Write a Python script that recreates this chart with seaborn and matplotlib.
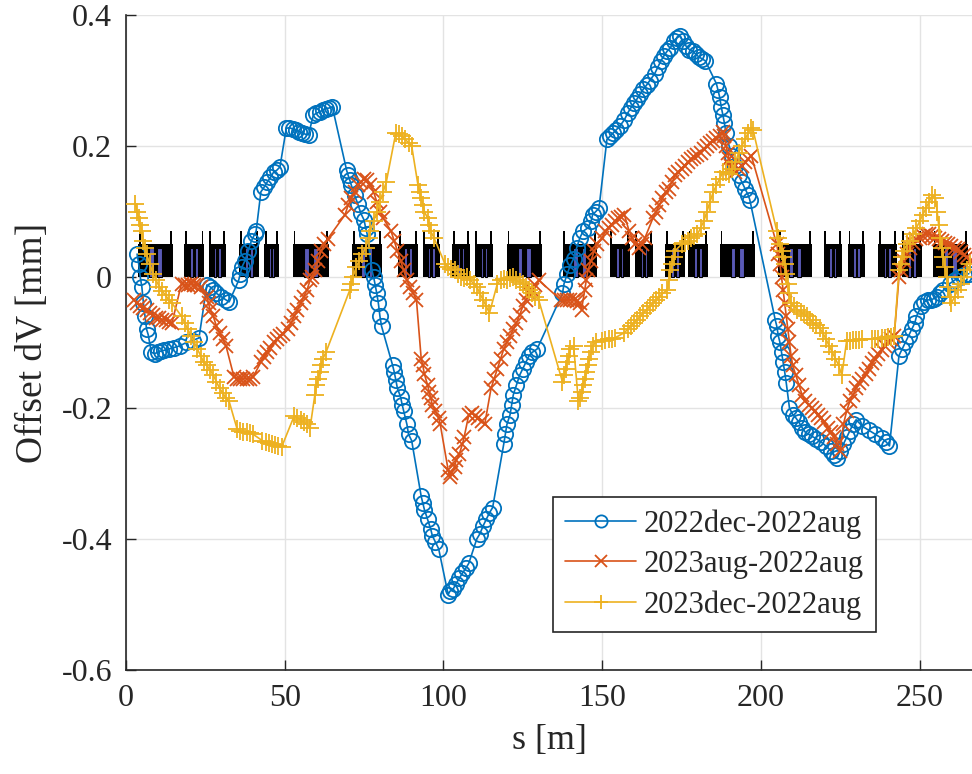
import numpy as np
import pandas as pd
import matplotlib
matplotlib.use("Agg")
import matplotlib.pyplot as plt
import seaborn as sns

# ---- data ----
s_dec22 = [3.5, 4.0, 4.5, 5.0, 5.5, 6.0, 6.5, 7.0, 8.0, 9.0, 10.0, 11.0, 12.0, 13.5, 15.0, 17.0, 19.0, 21.0, 23.0,
           25.5, 26.5, 27.5, 28.5, 30.0, 31.5, 32.5, 35.5, 36.0, 36.5, 37.5, 38.5, 39.5, 40.5, 41.0,
           42.5, 43.5, 44.5, 45.5, 46.5, 47.5, 48.5, 50.5, 51.5, 52.5, 53.5, 54.5, 55.5, 56.5, 57.5,
           59.0, 60.0, 61.0, 62.0, 63.0, 64.0, 65.0, 69.5, 70.0, 70.5, 71.0, 72.0, 73.0, 74.0, 75.0, 75.5, 76.0,
           77.5, 78.0, 78.5, 79.0, 79.5, 80.0, 80.5, 84.0, 84.5, 85.0, 85.5, 86.5, 87.0, 87.5, 88.5, 89.0, 90.0,
           93.0, 93.5, 94.0, 95.0, 96.0, 96.5, 97.5, 98.5, 101.5, 102.0, 103.0, 104.0, 105.0, 106.0, 107.0, 108.0,
           110.5, 111.5, 112.5, 113.5, 114.5, 115.5, 119.0, 119.5, 120.0, 121.0, 121.5, 122.0, 123.0, 124.0,
           125.0, 126.0, 127.0, 128.0, 129.5, 137.5, 138.0, 139.0, 140.0, 141.0, 142.0, 143.0, 144.0, 145.5,
           146.5, 147.0, 148.0, 149.0, 151.5, 152.5, 153.5, 154.5, 155.5, 157.0, 158.0, 159.0, 160.0, 161.0,
           162.0, 163.0, 164.0, 165.0, 166.5, 167.5, 168.5, 169.5, 170.5, 171.5, 172.5, 173.5, 174.5, 175.5,
           176.5, 177.5, 178.5, 179.5, 180.5, 181.5, 182.5, 186.0, 186.5, 187.0, 187.5, 188.0, 188.5, 189.0,
           190.0, 191.0, 192.0, 193.0, 194.0, 195.0, 196.0, 196.5, 204.5, 205.0, 205.5, 206.0, 206.5, 207.0,
           207.5, 208.0, 209.0, 210.0, 211.0, 212.0, 213.0, 214.0, 215.0, 216.0, 217.5, 219.0, 220.5, 222.0,
           223.0, 224.0, 225.0, 226.0, 227.0, 228.0, 229.0, 230.0, 232.0, 234.0, 236.0, 238.0, 239.5, 240.5,
           243.5, 244.5, 245.5, 246.5, 247.5, 248.5, 249.0, 250.5, 251.5, 252.5, 253.5, 254.5, 255.5, 256.5,
           257.5, 259.5, 261.0, 262.5, 264.0, 265.5]
dv_dec22 = [0.035, 0.02, 0.0, -0.015, -0.04, -0.06, -0.08, -0.088, -0.115, -0.117, -0.115, -0.113, -0.112, -0.11,
            -0.108, -0.105, -0.1, -0.097, -0.093,
            -0.012, -0.015, -0.02, -0.025, -0.03, -0.035, -0.038, -0.005, 0.005, 0.015, 0.025, 0.04, 0.055, 0.065, 0.07,
            0.13, 0.137, 0.145, 0.152, 0.16, 0.163, 0.168, 0.227, 0.228, 0.226, 0.224, 0.222, 0.22, 0.218, 0.217,
            0.247, 0.25, 0.252, 0.255, 0.257, 0.258, 0.26, 0.163, 0.155, 0.148, 0.14, 0.125, 0.112, 0.097, 0.087,
            0.075, 0.065,
            0.01, 0.0, -0.012, -0.025, -0.04, -0.06, -0.075, -0.135, -0.145, -0.157, -0.17, -0.183, -0.195, -0.205,
            -0.225, -0.24, -0.25,
            -0.335, -0.345, -0.355, -0.37, -0.385, -0.395, -0.405, -0.415, -0.485, -0.48, -0.477, -0.468, -0.46,
            -0.452, -0.445, -0.437,
            -0.4, -0.392, -0.38, -0.37, -0.36, -0.352, -0.255, -0.24, -0.225, -0.21, -0.195, -0.18, -0.165, -0.15,
            -0.14, -0.13, -0.12, -0.115, -0.11, -0.025, -0.01, 0.005, 0.018, 0.028, 0.045, 0.06, 0.07, 0.075,
            0.085, 0.095, 0.1, 0.105, 0.21, 0.215, 0.22, 0.225, 0.23, 0.24, 0.25, 0.258, 0.265, 0.272,
            0.28, 0.287, 0.293, 0.3, 0.31, 0.32, 0.33, 0.338, 0.345, 0.35, 0.36, 0.365, 0.368, 0.36,
            0.352, 0.347, 0.345, 0.34, 0.336, 0.333, 0.33, 0.295, 0.285, 0.275, 0.26, 0.248, 0.235, 0.22,
            0.2, 0.185, 0.17, 0.155, 0.145, 0.135, 0.125, 0.118, -0.065, -0.075, -0.09, -0.1, -0.115, -0.13,
            -0.145, -0.162, -0.2, -0.21, -0.215, -0.222, -0.23, -0.237, -0.24, -0.243, -0.247, -0.252, -0.258, -0.265,
            -0.272, -0.276, -0.265, -0.255, -0.245, -0.235, -0.225, -0.218, -0.228, -0.234, -0.24, -0.246, -0.252,
            -0.258,
            -0.12, -0.11, -0.1, -0.09, -0.08, -0.07, -0.06, -0.045, -0.038, -0.035, -0.035, -0.033, -0.03, -0.025,
            -0.02, -0.01, -0.005, 0.0, 0.003, 0.005]

s_aug23 = [2.5, 3.5, 4.5, 5.5, 6.5, 7.5, 8.5, 9.5, 10.5, 11.5, 12.5, 13.5, 14.5,
           17.5, 18.5, 19.5, 20.5, 21.5, 22.5, 23.5, 25.5, 26.0, 26.5, 27.5, 28.5, 29.5, 30.5, 31.5,
           34.0, 35.0, 36.0, 37.0, 38.0, 39.0, 40.0, 42.5, 43.5, 44.5, 45.5, 46.5, 47.5, 48.5, 49.5,
           51.0, 52.0, 53.0, 54.0, 55.0, 56.0, 57.0, 58.0, 58.5, 59.5, 60.5, 61.5, 62.5, 63.5,
           69.0, 70.0, 71.0, 72.0, 73.0, 74.0, 75.0, 76.0, 77.0, 78.0, 79.0, 80.0, 81.0,
           83.5, 84.5, 85.5, 86.5, 87.5, 88.5, 89.5, 90.5, 91.5, 93.0, 93.5, 94.0, 95.0, 95.5, 96.0, 96.5,
           97.5, 98.5, 99.0, 101.5, 102.0, 102.5, 103.5, 104.0, 105.0, 106.0, 106.5, 108.0, 109.0, 110.0,
           111.0, 112.0, 113.0, 115.0, 116.0, 117.0, 118.0, 119.0, 120.0, 121.0, 122.0, 123.0, 124.0, 125.0,
           126.0, 127.0, 128.0, 129.0, 130.0, 137.0, 138.0, 139.0, 140.0, 141.0, 142.0, 143.0, 143.5,
           144.5, 145.0, 145.5, 146.5, 147.5, 148.5, 150.0, 151.0, 152.0, 153.0, 154.0, 155.0, 156.0, 157.0,
           158.5, 159.5, 160.5, 161.5, 162.5, 163.5, 166.0, 167.0, 168.0, 169.0, 170.0, 171.0, 172.0, 173.0,
           174.0, 175.0, 176.0, 177.0, 178.0, 179.0, 180.0, 181.0, 182.0, 183.0, 184.0, 185.0, 186.0, 187.0,
           188.0, 188.5, 189.0, 189.5, 190.0, 190.5, 191.0, 192.0, 193.0, 194.0, 195.0, 196.0, 197.0,
           205.0, 205.5, 206.0, 206.5, 207.0, 207.5, 208.0, 208.5, 209.0, 209.5, 210.0, 211.0, 212.0, 213.0,
           214.0, 215.0, 216.0, 217.0, 218.0, 219.0, 220.0, 221.0, 222.0, 223.0, 224.0, 225.0,
           226.0, 227.0, 228.0, 229.0, 230.0, 231.0, 232.0, 233.0, 234.0, 235.0, 236.0, 237.0, 238.0, 239.0,
           240.0, 241.0, 242.0, 243.5, 244.0, 245.0, 246.0, 247.0, 248.0, 249.0, 250.0, 251.0, 252.0, 253.0,
           254.0, 255.0, 256.0, 257.0, 258.0, 259.0, 260.0, 261.0, 262.0, 263.0, 264.0, 265.0, 266.0]
dv_aug23 = [-0.035, -0.04, -0.045, -0.048, -0.05, -0.055, -0.058, -0.062, -0.063, -0.065, -0.066, -0.068, -0.07,
            -0.01, -0.012, -0.012, -0.01, -0.012, -0.012, -0.015, -0.03, -0.04, -0.05, -0.06, -0.075, -0.085, -0.095,
            -0.105,
            -0.152, -0.155, -0.155, -0.155, -0.155, -0.155, -0.153, -0.13, -0.122, -0.115, -0.108, -0.1, -0.095,
            -0.09, -0.087,
            -0.08, -0.07, -0.06, -0.05, -0.04, -0.03, -0.02, -0.005, 0.0, 0.01, 0.025, 0.04, 0.05, 0.058,
            0.095, 0.11, 0.12, 0.13, 0.14, 0.145, 0.15, 0.148, 0.14, 0.13, 0.115, 0.1, 0.09,
            0.07, 0.055, 0.04, 0.025, 0.01, -0.005, -0.015, -0.025, -0.035, -0.125, -0.135, -0.148, -0.165, -0.175,
            -0.185, -0.195,
            -0.205, -0.215, -0.225, -0.295, -0.305, -0.3, -0.29, -0.28, -0.27, -0.255, -0.245, -0.21, -0.208, -0.212,
            -0.215, -0.22, -0.225, -0.17, -0.155, -0.14, -0.125, -0.11, -0.1, -0.09, -0.08, -0.07, -0.058, -0.045,
            -0.035, -0.025, -0.02, -0.012, -0.005, -0.035, -0.035, -0.035, -0.035, -0.035, -0.037, -0.04, -0.05,
            -0.02, -0.005, 0.01, 0.025, 0.04, 0.05, 0.06, 0.07, 0.075, 0.08, 0.085, 0.09, 0.092, 0.095,
            0.07, 0.06, 0.05, 0.045, 0.05, 0.06, 0.09, 0.1, 0.11, 0.12, 0.13, 0.135, 0.145, 0.155,
            0.16, 0.165, 0.17, 0.175, 0.18, 0.183, 0.187, 0.19, 0.195, 0.2, 0.205, 0.208, 0.212, 0.215,
            0.222, 0.215, 0.2, 0.19, 0.18, 0.17, 0.165, 0.16, 0.165, 0.17, 0.175, 0.18, 0.185,
            0.05, 0.035, 0.02, 0.0, -0.02, -0.04, -0.06, -0.08, -0.1, -0.12, -0.135, -0.15, -0.165, -0.18,
            -0.19, -0.195, -0.2, -0.205, -0.21, -0.215, -0.222, -0.23, -0.237, -0.245, -0.255, -0.265,
            -0.225, -0.205, -0.19, -0.18, -0.17, -0.162, -0.155, -0.148, -0.14, -0.132, -0.125, -0.118, -0.112,
            -0.106,
            -0.1, -0.095, -0.09, 0.0, 0.01, 0.025, 0.035, 0.045, 0.052, 0.058, 0.06, 0.063, 0.065, 0.065,
            0.063, 0.06, 0.058, 0.055, 0.052, 0.05, 0.048, 0.045, 0.042, 0.038, 0.033, 0.03, 0.025]

s_dec23 = [3.0, 3.5, 4.0, 4.5, 5.0, 5.5, 6.0, 6.5, 7.5, 8.5, 9.5, 10.5, 11.5, 12.5, 13.5, 14.5,
           17.5, 18.5, 19.5, 20.5, 21.5, 22.5, 23.5, 24.5, 25.5, 26.5, 27.5, 28.5, 29.5, 30.5, 31.5, 32.5,
           35.0, 36.0, 37.0, 38.0, 39.0, 40.0, 43.0, 44.0, 45.0, 46.0, 47.0, 48.0, 49.0,
           53.0, 54.0, 55.0, 56.0, 57.0, 58.0, 59.5, 60.0, 60.5, 61.0, 61.5, 62.0, 63.0,
           70.5, 71.0, 71.5, 72.5, 73.5, 74.5, 75.5, 76.5, 77.0, 78.0, 79.0, 80.0, 81.0, 82.0,
           85.0, 86.0, 87.0, 88.0, 89.0, 90.0, 92.0, 92.5, 93.0, 93.5, 94.0, 95.0, 95.5, 96.0, 97.0,
           100.5, 101.5, 102.5, 103.5, 104.5, 105.5, 106.5, 107.5, 108.5, 109.5, 110.5, 111.5, 112.5, 113.5, 114.5,
           117.0, 118.0, 119.0, 120.0, 121.0, 122.0, 123.0, 124.0, 125.0, 126.0, 127.0, 128.0, 129.0, 130.0,
           137.5, 138.0, 138.5, 139.0, 139.5, 140.0, 141.0, 142.5, 143.0, 143.5, 144.0, 144.5, 145.0, 145.5,
           146.0, 146.5, 147.0, 148.0, 150.0, 151.0, 152.0, 153.0, 154.0,
           157.0, 158.0, 159.0, 160.0, 161.0, 162.0, 163.0, 164.0, 165.0, 166.0, 167.0, 168.0, 169.0,
           170.5, 171.0, 171.5, 172.0, 172.5, 173.0, 175.0, 176.0, 177.0, 178.0, 179.0, 180.0,
           181.0, 182.0, 183.0, 184.0, 185.0, 186.0, 187.0, 188.0, 189.0, 190.0, 191.0, 192.0, 193.0, 194.0,
           195.0, 196.0, 197.0, 197.5,
           205.0, 205.5, 206.0, 206.5, 207.0, 207.5, 208.0, 208.5, 209.0, 209.5,
           210.5, 211.5, 212.5, 213.5, 214.5, 215.5, 216.5, 217.5, 218.5,
           219.5, 220.5, 221.5, 222.5, 223.5, 224.5, 225.5,
           227.0, 228.0, 229.0, 230.0, 231.0, 232.0, 235.0, 236.0, 237.0, 238.0, 239.0, 240.0, 241.0, 242.0,
           243.5, 244.0, 244.5, 245.0, 246.0, 247.0, 248.0, 249.0, 250.0, 251.0, 252.0, 253.0, 254.0,
           255.0, 255.5, 256.0, 256.5, 257.0, 257.5, 258.0, 258.5, 259.0, 259.5, 260.0,
           261.0, 262.0, 263.0, 264.0, 265.0, 266.0]
dv_dec23 = [0.112, 0.1, 0.09, 0.08, 0.07, 0.055, 0.045, 0.035, 0.02, 0.005, -0.005, -0.015, -0.022, -0.028, -0.035,
            -0.04,
            -0.06, -0.07, -0.08, -0.09, -0.1, -0.11, -0.12, -0.13, -0.135, -0.142, -0.15, -0.16, -0.17, -0.177,
            -0.185, -0.19,
            -0.232, -0.235, -0.236, -0.237, -0.238, -0.24, -0.25, -0.252, -0.254, -0.255, -0.257, -0.258, -0.26,
            -0.212, -0.215, -0.218, -0.222, -0.225, -0.23, -0.18, -0.165, -0.155, -0.145, -0.135, -0.125, -0.115,
            -0.02, -0.01, 0.0, 0.015, 0.025, 0.035, 0.045, 0.06, 0.07, 0.085, 0.1, 0.115, 0.13, 0.145,
            0.22, 0.218, 0.215, 0.21, 0.205, 0.2, 0.14, 0.13, 0.12, 0.11, 0.1, 0.09, 0.08, 0.07, 0.06,
            0.02, 0.015, 0.012, 0.01, 0.005, 0.0, -0.002, 0.0, -0.005, -0.01, -0.015, -0.025, -0.035, -0.045, -0.055,
            -0.01, -0.005, -0.003, -0.005, -0.002, 0.0, -0.005, -0.008, -0.01, -0.015, -0.02, -0.025, -0.03, -0.035,
            -0.16, -0.15, -0.14, -0.13, -0.12, -0.11, -0.105, -0.19, -0.185, -0.175, -0.165, -0.155, -0.145, -0.135,
            -0.125, -0.115, -0.105, -0.1, -0.097, -0.096, -0.095, -0.094, -0.093,
            -0.085, -0.08, -0.075, -0.07, -0.065, -0.06, -0.055, -0.05, -0.045, -0.04, -0.035, -0.03, -0.025,
            -0.02, -0.005, 0.01, 0.02, 0.03, 0.04, 0.05, 0.052, 0.055, 0.06, 0.062, 0.065,
            0.075, 0.085, 0.1, 0.115, 0.13, 0.14, 0.15, 0.16, 0.16, 0.158, 0.165, 0.175, 0.19, 0.2,
            0.21, 0.22, 0.228, 0.225,
            0.07, 0.06, 0.05, 0.04, 0.03, 0.02, 0.005, -0.01, -0.025, -0.04,
            -0.045, -0.05, -0.053, -0.057, -0.06, -0.065, -0.07, -0.073, -0.078,
            -0.085, -0.095, -0.105, -0.115, -0.125, -0.135, -0.15,
            -0.098, -0.097, -0.096, -0.096, -0.096, -0.095, -0.095, -0.094, -0.094, -0.093, -0.093, -0.092, -0.092,
            -0.09,
            0.01, 0.02, 0.03, 0.04, 0.05, 0.055, 0.065, 0.075, 0.085, 0.095, 0.105, 0.115, 0.125,
            0.12, 0.1, 0.08, 0.06, 0.045, 0.03, 0.015, 0.0, -0.015, -0.03, -0.04,
            -0.03, -0.02, -0.01, 0.0, 0.01, 0.02]

# lattice magnet blocks (start, end in m)
mag_start = [3.8, 18.3, 26.1, 35.6, 43.5, 52.6, 71.2, 85.7, 93.5, 102.7, 109.9, 120.0,
             137.6, 152.4, 160.3, 169.8, 177.0, 187.1, 205.4, 219.8, 227.4, 236.9, 244.4, 254.2]
mag_end = [14.8, 24.6, 31.5, 41.9, 48.2, 63.9, 80.6, 92.0, 98.9, 108.3, 115.6, 131.0,
           148.3, 158.7, 166.0, 176.1, 183.3, 198.1, 216.1, 225.5, 232.8, 242.8, 250.7, 265.2]

labels = ["2022dec-2022aug", "2023aug-2022aug", "2023dec-2022aug"]
colors = ["#0072BD", "#D95319", "#EDB120"]

sns.set_theme(style="whitegrid")
plt.rcParams["font.family"] = ["Liberation Serif", "DejaVu Serif"]
plt.rcParams["axes.unicode_minus"] = False

fig = plt.figure(figsize=(9.72, 7.74), dpi=100)
ax = fig.add_axes([0.1296, 0.1344, 0.8704, 0.8462])

# lattice drawing
mag_start = np.array(mag_start)
mag_end = np.array(mag_end)
width = mag_end - mag_start
ax.bar(mag_start, 0.05, width=width, align="edge", color="black", zorder=2, linewidth=0)
ax.bar(np.concatenate([mag_start + 0.5, mag_end - 0.5]), 0.07, width=0.6, color="black", zorder=2, linewidth=0)
mid = (mag_start + mag_end) / 2
ax.bar(np.concatenate([mid - width * 0.12, mid + width * 0.12]), 0.045, width=np.concatenate([width * 0.13, width * 0.13]),
       color="#5a5ab8", edgecolor="black", linewidth=0.8, zorder=2.1)

series = [
    (s_dec22, dv_dec22, "o", 11, dict(markerfacecolor="none")),
    (s_aug23, dv_aug23, "x", 10, dict()),
    (s_dec23, dv_dec23, "+", 13, dict()),
]
for (s, v, m, ms, extra), lab, c in zip(series, labels, colors):
    df = pd.DataFrame({"s": s, "dv": v})
    sns.lineplot(data=df, x="s", y="dv", sort=False, estimator=None, ax=ax, color=c,
                 marker=m, markersize=ms, markeredgecolor=c, markeredgewidth=1.3,
                 linewidth=1.2, label=lab, zorder=3, **extra)

ax.set_xlim(0, 266.5)
ax.set_ylim(-0.6, 0.4)
ax.set_xticks([0, 50, 100, 150, 200, 250])
ax.set_yticks([-0.6, -0.4, -0.2, 0, 0.2, 0.4])
ax.set_yticklabels(["-0.6", "-0.4", "-0.2", "0", "0.2", "0.4"])
ax.grid(True, color="#e3e3e3", linewidth=1.0)
ax.set_facecolor("white")
for side in ["top", "right"]:
    ax.spines[side].set_visible(False)
for side in ["left", "bottom"]:
    ax.spines[side].set_color("#262626")
    ax.spines[side].set_linewidth(1.2)
ax.tick_params(axis="both", direction="in", length=7, width=1.0, color="#262626",
               labelsize=23, labelcolor="#262626", pad=10, left=True, bottom=True)
ax.set_xlabel("s [m]", fontsize=26, color="#262626", labelpad=8)
ax.set_ylabel("Offset dV [mm]", fontsize=27, color="#262626", labelpad=8)

leg = ax.legend(loc="lower left", bbox_to_anchor=(0.505, 0.058), borderaxespad=0, fontsize=22,
                frameon=True, fancybox=False, edgecolor="#262626", framealpha=1, handlelength=2.3,
                markerscale=0.8, borderpad=0.4, labelspacing=0.37, handletextpad=0.25)
leg.get_frame().set_linewidth(1.2)

fig.savefig("out.png", dpi=100)
